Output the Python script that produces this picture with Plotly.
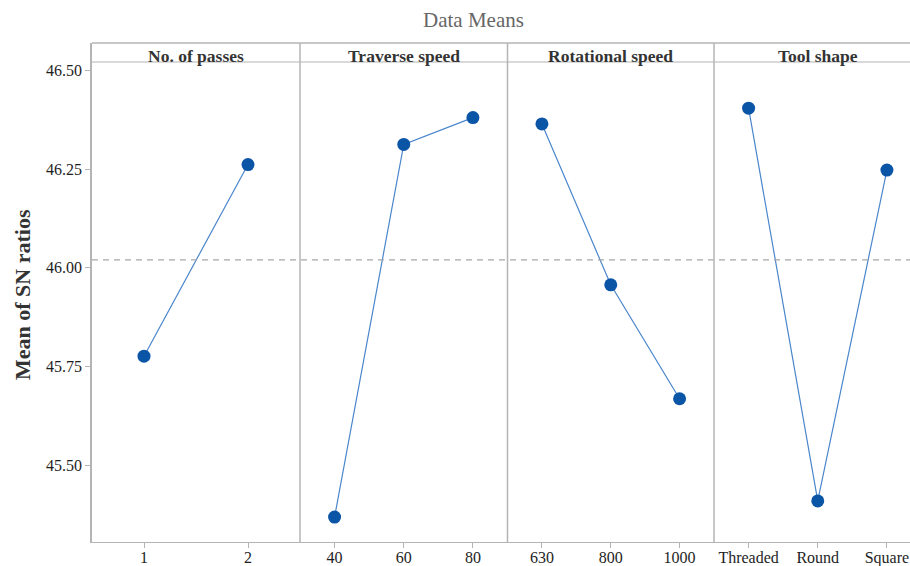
import plotly.graph_objects as go

# Main effects for SN ratios (data means)
factors = ["No. of passes", "Traverse speed", "Rotational speed", "Tool shape"]

passes_levels = ["1", "2"]
passes_means = [45.776, 46.262]

traverse_levels = ["40", "60", "80"]
traverse_means = [45.368, 46.313, 46.381]

rotational_levels = ["630", "800", "1000"]
rotational_means = [46.365, 45.957, 45.668]

tool_levels = ["Threaded", "Round", "Square"]
tool_means = [46.405, 45.409, 46.248]

grand_mean = 46.02

y_ticks = [45.50, 45.75, 46.00, 46.25, 46.50]

panels = [
    (passes_levels, passes_means),
    (traverse_levels, traverse_means),
    (rotational_levels, rotational_means),
    (tool_levels, tool_means),
]

# ---- layout geometry (pixels) ----
W, H = 910, 566
L, R, T, B = 92, 0, 43, 24
plot_w = W - L - R
plot_h = H - T - B
edges_px = [92, 300, 507.5, 714, 921.5]   # panel boundaries; last one runs past the page edge
header_px = 62

def px_to_xpaper(px):
    return (px - L) / plot_w

def px_to_ypaper(py):
    return (H - B - py) / plot_h

FONT = "Liberation Serif"
FRAME = "#b4b4b4"
MARKER = "#0b55a6"
LINE = "#4a86cc"

fig = go.Figure()

for i, (levels, means) in enumerate(panels):
    n = len(levels)
    xs = list(range(1, n + 1))
    axis_suffix = "" if i == 0 else str(i + 1)
    fig.add_trace(go.Scatter(
        x=xs, y=means, mode="lines+markers",
        line=dict(color=LINE, width=1.2),
        marker=dict(color=MARKER, size=13),
        xaxis="x" + axis_suffix, yaxis="y",
        showlegend=False, hoverinfo="skip", cliponaxis=False,
    ))
    left = edges_px[i]
    right = min(edges_px[i + 1], W)
    unit = (edges_px[i + 1] - edges_px[i]) / n
    x_hi = 0.5 + (right - left) / unit
    fig.layout["xaxis" + axis_suffix] = dict(
        domain=[px_to_xpaper(left), px_to_xpaper(right)],
        range=[0.5, x_hi],
        tickvals=xs, ticktext=levels,
        ticks="outside", ticklen=5, tickcolor=FRAME, tickwidth=1,
        ticklabelstandoff=-4,
        showline=True, linecolor=FRAME, linewidth=1,
        showgrid=False, zeroline=False, fixedrange=True, automargin=False,
        tickfont=dict(family=FONT, size=16, color="#1e1e1e"),
        anchor="y",
    )
    # factor header
    center = (edges_px[i] + edges_px[i + 1]) / 2
    fig.add_annotation(
        x=px_to_xpaper(center), y=px_to_ypaper(56.5), xref="paper", yref="paper",
        text="<b>%s</b>" % factors[i], showarrow=False,
        xanchor="center", yanchor="middle",
        font=dict(family=FONT, size=17.5, color="#333333"),
    )

y_top = 46.50 + (70.7 - T) / 394.3
y_bot = 46.50 - (H - B - 70.7) / 394.3
fig.update_layout(
    yaxis=dict(
        range=[y_bot, y_top], tickvals=y_ticks, tickformat=".2f",
        ticks="outside", ticklen=5, tickcolor=FRAME, tickwidth=1,
        showline=True, linecolor=FRAME, linewidth=1.5,
        showgrid=False, zeroline=False, fixedrange=True, automargin=False,
        tickfont=dict(family=FONT, size=16, color="#1e1e1e"),
    ),
    width=W, height=H,
    margin=dict(l=L, r=R, t=T, b=B, pad=0, autoexpand=False),
    plot_bgcolor="white", paper_bgcolor="white",
)

# frame: top border, header separator and panel dividers
shapes = [
    dict(type="line", xref="paper", yref="paper", x0=0, x1=1, y0=1, y1=1,
         line=dict(color=FRAME, width=1.5)),
    dict(type="line", xref="paper", yref="paper", x0=0, x1=1,
         y0=px_to_ypaper(header_px), y1=px_to_ypaper(header_px),
         line=dict(color=FRAME, width=1)),
    dict(type="line", xref="paper", yref="y", x0=0, x1=1,
         y0=grand_mean, y1=grand_mean,
         line=dict(color="#a8a8a8", width=1.2, dash="6px,5px")),
]
for px in edges_px[1:4]:
    shapes.append(dict(type="line", xref="paper", yref="paper",
                       x0=px_to_xpaper(px), x1=px_to_xpaper(px), y0=0, y1=1,
                       line=dict(color=FRAME, width=1.5)))
fig.update_layout(shapes=shapes)

# chart title and y-axis title
fig.add_annotation(
    x=px_to_xpaper(473), y=px_to_ypaper(20), xref="paper", yref="paper",
    text="Data Means", showarrow=False, xanchor="center", yanchor="middle",
    font=dict(family=FONT, size=21, color="#666666"),
)
fig.add_annotation(
    x=px_to_xpaper(22), y=px_to_ypaper(295), xref="paper", yref="paper",
    text="<b>Mean of SN ratios</b>", showarrow=False, textangle=-90,
    xanchor="center", yanchor="middle",
    font=dict(family=FONT, size=22, color="#333333"),
)

fig.write_html("out.html")
